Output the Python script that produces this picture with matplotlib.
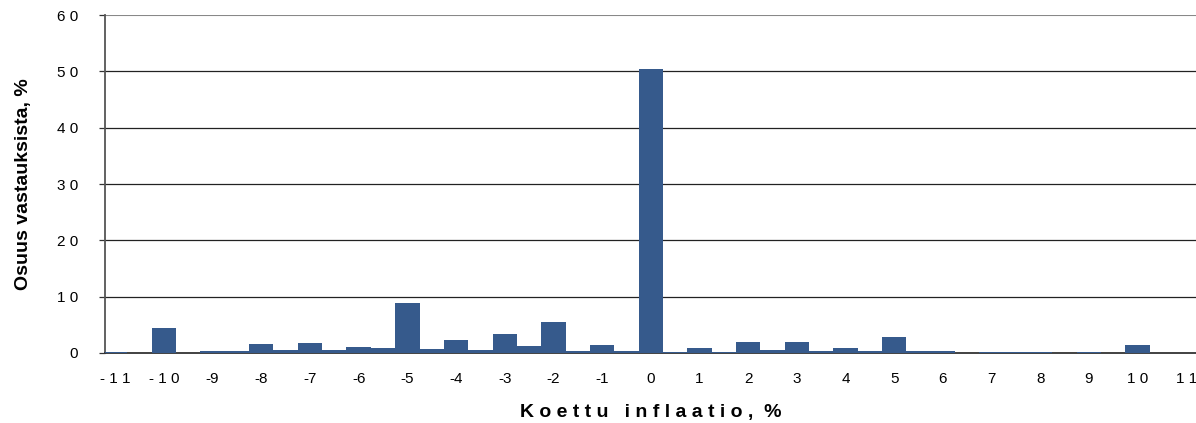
import matplotlib.pyplot as plt
import numpy as np

plt.rcParams['font.family'] = ['Liberation Sans', 'DejaVu Sans']

# koettu inflaatio, puolen prosenttiyksikon valein
inflaatio = np.arange(-11, 11, 0.5)
osuus = [0.2, 0.0, 4.4, 0.0, 0.4, 0.4, 1.65, 0.5, 1.8, 0.5,
         1.1, 0.8, 8.8, 0.7, 2.35, 0.5, 3.4, 1.3, 5.5, 0.4,
         1.5, 0.3, 50.4, 0.2, 0.95, 0.1, 2.0, 0.6, 1.9, 0.35,
         0.95, 0.4, 2.9, 0.3, 0.4, 0.0, 0.25, 0.15, 0.2, 0.0,
         0.15, 0.0, 1.35, 0.0]

x_ticks = list(range(-11, 12))
x_labels = ['- 1 1', '- 1 0'] + [str(t) for t in range(-9, 10)] + ['1 0', '1 1']
y_ticks = [0, 10, 20, 30, 40, 50, 60]
y_labels = ['0', '1 0', '2 0', '3 0', '4 0', '5 0', '6 0']

fig = plt.figure(figsize=(11.96, 4.23), dpi=100)
ax = fig.add_axes([0.0874, 0.1655, 0.9126, 0.799])

ax.bar(inflaatio, osuus, width=0.5, color='#365A8C', linewidth=0, zorder=3)

# vaakasuorat apuviivat
for y in y_ticks[1:-1]:
    ax.axhline(y, color='#222222', linewidth=0.9, zorder=1)
ax.axhline(60, color='#888888', linewidth=1.5, zorder=1)

ax.set_xlim(-11.22, 11.2)
ax.set_ylim(0, 60)
ax.set_xticks(x_ticks)
ax.set_xticklabels(x_labels, fontsize=11)
ax.set_yticks(y_ticks)
ax.set_yticklabels(y_labels, fontsize=11)
ax.tick_params(axis='x', length=0, pad=14)
ax.tick_params(axis='y', length=4, width=0.9, pad=15, color='#333333')

for s in ['top', 'right']:
    ax.spines[s].set_visible(False)
ax.spines['left'].set_color('#555555')
ax.spines['left'].set_linewidth(1.3)
ax.spines['bottom'].set_color('#333333')
ax.spines['bottom'].set_linewidth(1.3)

ax.set_xlabel('K o e t t u   i n f l a a t i o ,  %', fontsize=14,
              fontweight='bold', labelpad=13)
ax.set_ylabel('Osuus vastauksista, %', fontsize=14, fontweight='bold',
              labelpad=18)

fig.savefig('out.png', dpi=100)
